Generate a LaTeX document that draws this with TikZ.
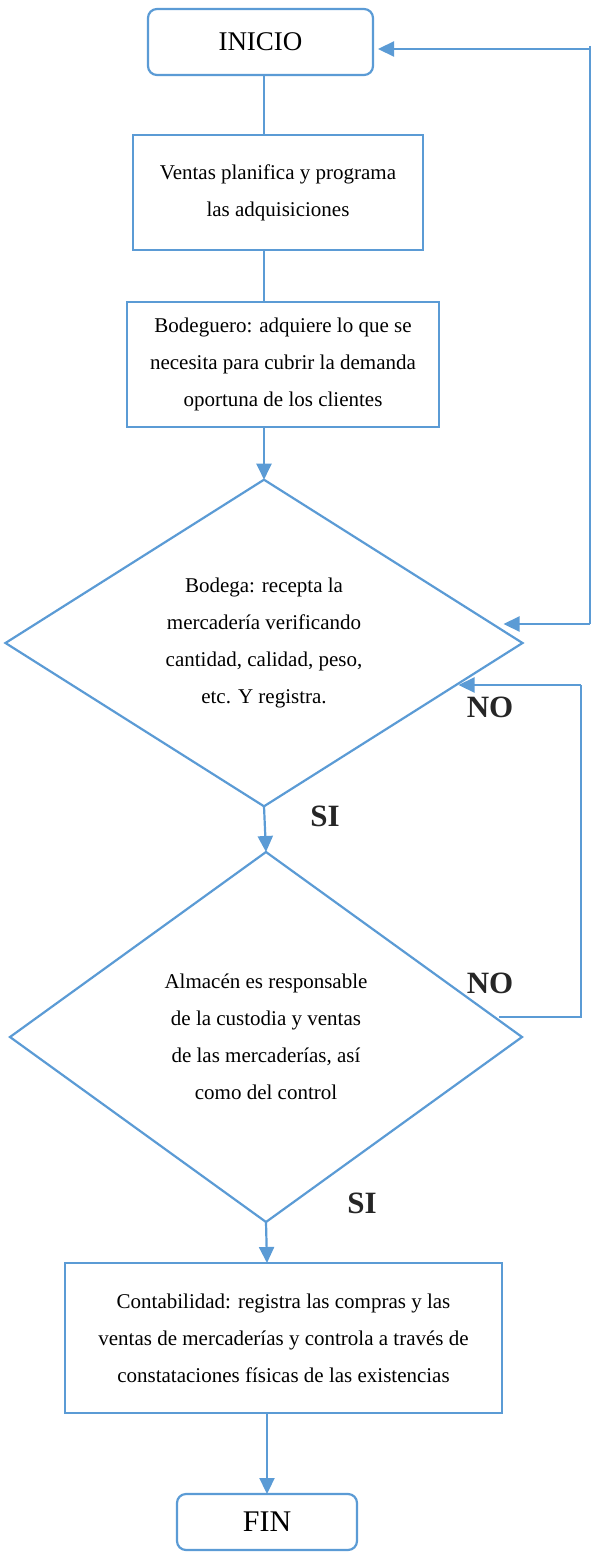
\documentclass[tikz,border=0pt]{standalone}
\usepackage{fontspec}
\setmainfont{Liberation Serif}
\usetikzlibrary{shapes.geometric,arrows.meta,calc}
\definecolor{flow}{HTML}{5B9BD5}
\begin{document}
\begin{tikzpicture}[x=1pt,y=-1pt,
  every node/.style={inner sep=0pt, outer sep=0pt},
  line/.style={draw=flow, line width=2.2pt},
  arr/.style={line, -{Triangle[length=16pt,width=15pt]}},
  thin line/.style={draw=flow, line width=1.1pt},
  term/.style={line, rounded corners=9pt, align=center},
  proc/.style={line, align=center, font=\fontsize{21}{37}\selectfont},
  dec/.style={line, diamond, align=center, font=\fontsize{21}{37}\selectfont},
  lbl/.style={font=\fontsize{31}{31}\selectfont\bfseries, text=black!85}]
\useasboundingbox (0,0) rectangle (593,1552);

% boxes
\node[term, minimum width=225pt, minimum height=66pt, font=\fontsize{27}{27}\selectfont] (inicio) at (260.5,42) {INICIO};
\node[proc, minimum width=290pt, minimum height=115pt] (box2) at (278,192.5) {Ventas planifica y programa\\las adquisiciones};
\node[proc, minimum width=312pt, minimum height=125pt] (box3) at (283,364.5) {Bodeguero: adquiere lo que se\\necesita para cubrir la demanda\\oportuna de los clientes};
\node[dec, minimum width=517pt, minimum height=313pt] (d1) at (264,643) {Bodega: recepta la\\mercadería verificando\\cantidad, calidad, peso,\\etc. Y registra.};
\node[dec, minimum width=512pt, minimum height=370pt] (d2) at (266,1037) {Almacén es responsable\\de la custodia y ventas\\de las mercaderías, así\\como del control};
\node[proc, minimum width=437pt, minimum height=150pt] (box4) at (283.5,1338) {Contabilidad: registra las compras y las\\ventas de mercaderías y controla a través de\\constataciones físicas de las existencias};
\node[term, minimum width=180pt, minimum height=56pt, font=\fontsize{30}{30}\selectfont] (fin) at (267,1522) {FIN};

% main flow
\draw[line] (inicio.south -| d1.north) -- (box2.north -| d1.north);
\draw[line] (box2.south -| d1.north) -- (box3.north -| d1.north);
\draw[arr] (box3.south -| d1.north) -- (d1.north);
\draw[arr] (d1.south) -- (d2.north);
\draw[arr] (d2.south) -- (box4.north -| fin.north);
\draw[arr] (box4.south -| fin.north) -- (fin.north);

% return loop to the start and to the reception check
\coordinate (loopA) at (590,46);
\coordinate (loopB) at (590,624);
\draw[thin line] (loopA) -- (loopB);
\draw[arr] (loopA |- 0,49) -- ($(inicio.east |- 0,49)+(5,0)$);
\draw[arr] (loopB) -- ($(d1.east)+(-19,-19)$);

% "NO" loop from the storage check back to the reception check
\coordinate (loopC) at (581,1017);
\coordinate (loopD) at (581,685);
\draw[thin line] ($(d2.east)+(-23,-20)$) -- (loopC) -- (loopD);
\draw[arr] (loopD) -- ($(d1.east)+(-64,42)$);

% labels
\node[lbl] (no1) at (490,707) {NO};
\node[lbl] (no2) at (490,983) {NO};
\node[lbl] (si1) at (325,816) {SI};
\node[lbl] (si2) at (362,1203) {SI};
\end{tikzpicture}
\end{document}
